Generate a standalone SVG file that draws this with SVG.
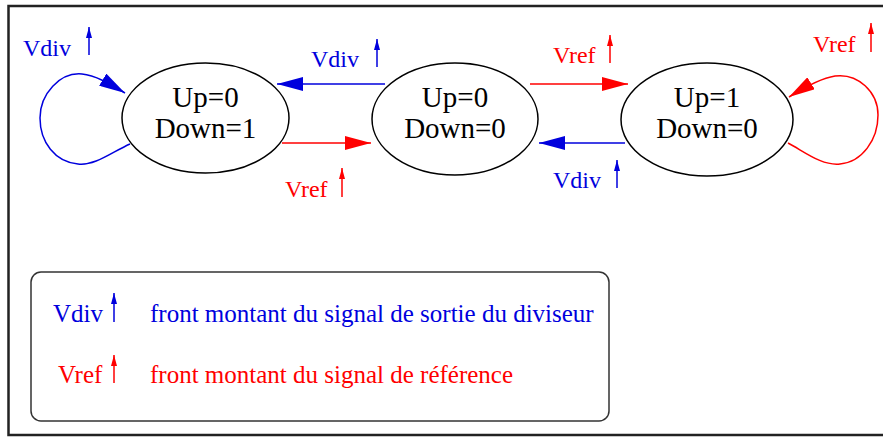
<svg xmlns="http://www.w3.org/2000/svg" width="883" height="437" viewBox="0 0 883 437">
<style>
text{font-family:"Liberation Serif","Times New Roman",serif}
.st{font-size:29px;fill:#000;text-anchor:middle}
.lb{font-size:24px}
.lg{font-size:25px}
.blue{fill:#0000dd}
.red{fill:#ff0000}
.node{fill:#fff;stroke:#000;stroke-width:1.5}
.eb{fill:none;stroke:#0000dd;stroke-width:1.5}
.er{fill:none;stroke:#ff0000;stroke-width:1.5}
.ub{stroke:#0000dd;stroke-width:1.5}
.ur{stroke:#ff0000;stroke-width:1.5}
</style>
<defs>
<marker id="ahb" markerUnits="userSpaceOnUse" markerWidth="26" markerHeight="14" refX="26" refY="7" orient="auto" viewBox="0 0 26 14"><path d="M0,0 L26,7 L0,14 z" fill="#0000dd"/></marker>
<marker id="ahr" markerUnits="userSpaceOnUse" markerWidth="26" markerHeight="14" refX="26" refY="7" orient="auto" viewBox="0 0 26 14"><path d="M0,0 L26,7 L0,14 z" fill="#ff0000"/></marker>
<marker id="sb" markerUnits="userSpaceOnUse" markerWidth="11" markerHeight="6" refX="11" refY="3" orient="auto" viewBox="0 0 11 6"><path d="M0,0 L11,3 L0,6 z" fill="#0000dd"/></marker>
<marker id="sr" markerUnits="userSpaceOnUse" markerWidth="11" markerHeight="6" refX="11" refY="3" orient="auto" viewBox="0 0 11 6"><path d="M0,0 L11,3 L0,6 z" fill="#ff0000"/></marker>
</defs>
<rect x="8.5" y="6" width="880" height="429" fill="#fff" stroke="#222" stroke-width="2.5"/>
<g id="connectors">
<path class="eb" d="M130,144 C112,152 95,166 78,164 C55,162 40,142 40,118 C40,94 60,72 82,74 C95,75 110,84 125,93" marker-end="url(#ahb)"/>
<path class="eb" d="M385,84 L277,84" marker-end="url(#ahb)"/>
<path class="er" d="M282,143 L371,143" marker-end="url(#ahr)"/>
<path class="er" d="M530,84 L628,84" marker-end="url(#ahr)"/>
<path class="eb" d="M625,143 L539,143" marker-end="url(#ahb)"/>
<path class="er" d="M788,143 C805,152 822,166 840,164 C862,162 878,140 878,115 C878,92 858,73 835,76 C822,78 805,87 789,97" marker-end="url(#ahr)"/>
<g id="labels">
<text class="lb blue" x="23" y="56">Vdiv</text>
<line class="ub" x1="89" y1="55" x2="89" y2="27" marker-end="url(#sb)"/>
<text class="lb blue" x="311" y="67">Vdiv</text>
<line class="ub" x1="377" y1="67" x2="377" y2="39" marker-end="url(#sb)"/>
<text class="lb red" x="285" y="197">Vref</text>
<line class="ur" x1="342" y1="197" x2="342" y2="168" marker-end="url(#sr)"/>
<text class="lb red" x="553" y="63">Vref</text>
<line class="ur" x1="610" y1="63" x2="610" y2="35" marker-end="url(#sr)"/>
<text class="lb blue" x="553" y="188">Vdiv</text>
<line class="ub" x1="617" y1="188" x2="617" y2="160" marker-end="url(#sb)"/>
<text class="lb red" x="813" y="52">Vref</text>
<line class="ur" x1="871" y1="52" x2="871" y2="23" marker-end="url(#sr)"/>
</g>
</g>
<g id="s_up0_down1">
<ellipse class="node" cx="205.5" cy="118" rx="83.5" ry="55"/>
<text class="st" x="205.5" y="107">Up=0</text>
<text class="st" x="205.5" y="138">Down=1</text>
</g>
<g id="s_up0_down0">
<ellipse class="node" cx="455" cy="119" rx="83" ry="56"/>
<text class="st" x="455" y="107">Up=0</text>
<text class="st" x="455" y="138">Down=0</text>
</g>
<g id="s_up1_down0">
<ellipse class="node" cx="707" cy="119.5" rx="86" ry="56.5"/>
<text class="st" x="707" y="107">Up=1</text>
<text class="st" x="707" y="138">Down=0</text>
</g>
<g id="legend">
<rect x="31" y="272" width="578" height="149" rx="10" ry="10" fill="#fff" stroke="#333" stroke-width="1.5"/>
<text class="lg blue" x="53" y="322">Vdiv</text>
<line class="ub" x1="114" y1="322" x2="114" y2="293" marker-end="url(#sb)"/>
<text class="lg blue" x="150" y="322">front montant du signal de sortie du diviseur</text>
<text class="lg red" x="58" y="383">Vref</text>
<line class="ur" x1="114" y1="383" x2="114" y2="355" marker-end="url(#sr)"/>
<text class="lg red" x="150" y="383">front montant du signal de référence</text>
</g>
</svg>
